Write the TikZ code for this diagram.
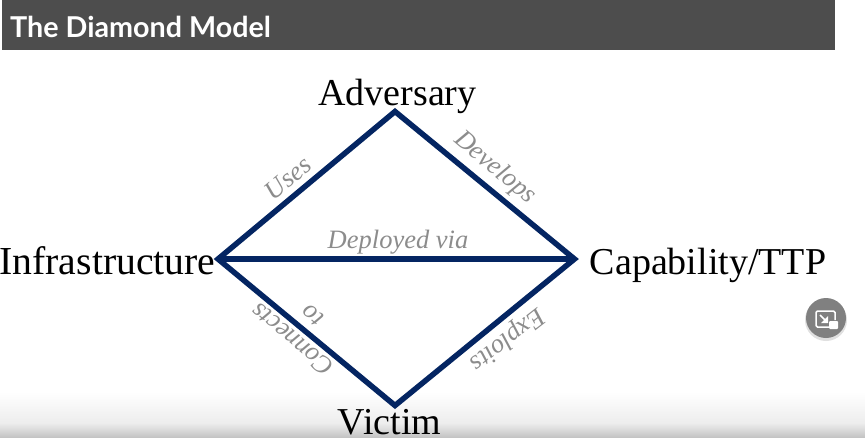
\documentclass[tikz,border=0pt]{standalone}
\usepackage{fontspec}
\setmainfont{Liberation Serif}
\newfontfamily\titlefont{Lato}
\definecolor{navy}{HTML}{042562}
\definecolor{banner}{HTML}{4D4D4D}
\definecolor{lbl}{HTML}{8C8C8C}
\definecolor{btn}{HTML}{808080}
\begin{document}
\begin{tikzpicture}[x=1pt,y=-1pt,
  vertex/.style={inner sep=0pt,anchor=base,text=black,font=\fontsize{38}{42}\selectfont},
  edgelabel/.style={inner sep=0pt,text=lbl,align=center,font=\fontsize{26.5}{31}\selectfont\itshape},
  edgeline/.style={draw=navy,line width=5.5pt,line join=miter}]
\useasboundingbox (0,0) rectangle (865,437);
\fill[white] (0,0) rectangle (865,437);
\shade[top color=white,bottom color=black!7] (0,392) rectangle (865,423);
\shade[top color=black!7,bottom color=black!23] (0,423) rectangle (865,437);
\fill[banner] (2,0) rectangle (835,50);
\node[anchor=west,inner sep=0pt,text=white,font=\titlefont\bfseries\fontsize{28.7}{32}\selectfont] (title) at (10,27) {The Diamond Model};
\coordinate (top) at (395,111.5);
\coordinate (left) at (218,259);
\coordinate (right) at (574.5,259);
\coordinate (bottom) at (395,405.5);
\draw[edgeline] (top) -- (right) -- (bottom) -- (left) -- cycle;
\draw[edgeline] (left) -- (right);
\node[vertex] (adv) at (397.5,105) {Adversary};
\node[vertex,font=\fontsize{39.7}{42}\selectfont] (inf) at (107.5,274.5) {Infrastructure};
\node[vertex] (cap) at (708,274.5) {Capability/TTP};
\node[vertex] (vic) at (389.5,434) {Victim};
\node[edgelabel,rotate=40] (uses) at (288,178) {Uses};
\node[edgelabel,rotate=-40] (dev) at (495,168) {Develops};
\node[edgelabel] (dep) at (398,242) {Deployed via};
\node[edgelabel,rotate=140] (con) at (302,328) {Connects\\to};
\node[edgelabel,rotate=218] (exp) at (507,339) {Exploits};
\fill[black!12] (826,320) circle (21);
\fill[btn] (826,318) circle (20);
\draw[white,line width=1.5pt,rounded corners=1.5pt] (829,327) -- (816,327) -- (816,311) -- (835,311) -- (835,320);
\draw[white,line width=1.5pt] (820,315) -- (826,321);
\fill[white] (821,323) -- (828,323) -- (828,316) -- cycle;
\fill[white,rounded corners=1pt] (829,321) rectangle (838,329);
\end{tikzpicture}
\end{document}
